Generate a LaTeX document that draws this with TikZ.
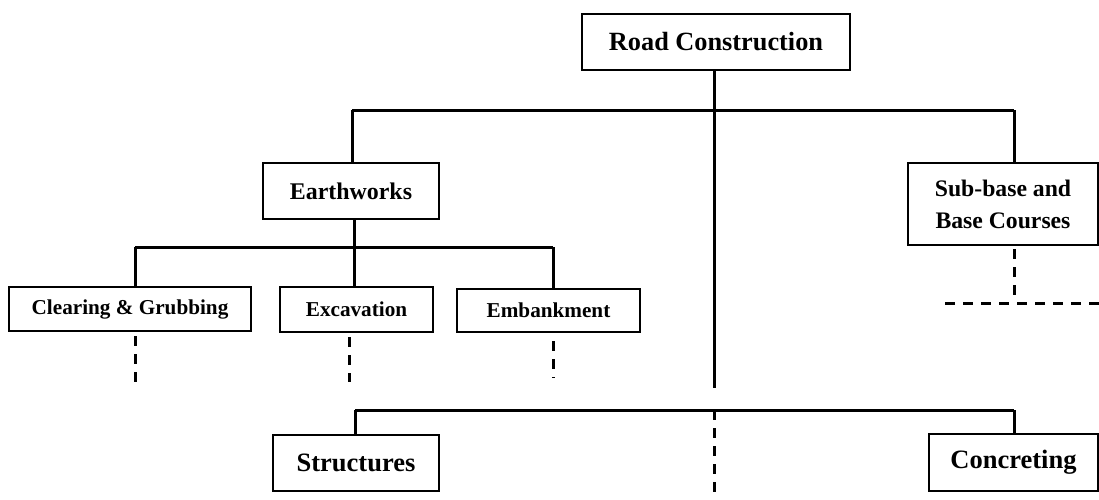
\documentclass[tikz,border=0pt]{standalone}
\usepackage{fontspec}
\setmainfont{Liberation Serif}
\begin{document}
\begin{tikzpicture}[x=1pt,y=-1pt,
  box/.style={draw, line width=2.2pt, inner sep=0pt, font=\bfseries, align=center},
  conn/.style={line width=3pt},
  dconn/.style={line width=3pt, dash pattern=on 10pt off 8pt}]
\useasboundingbox (0,0) rectangle (1099,499);
\clip (0,0) rectangle (1099,499);
% nodes
\node[box, minimum width=268pt, minimum height=56pt, font=\bfseries\fontsize{26.3}{30}\selectfont] (rc) at (716,42) {Road Construction};
\node[box, minimum width=176pt, minimum height=56pt, font=\bfseries\fontsize{23.9}{28}\selectfont] (ew) at (351,191) {Earthworks};
\node[box, minimum width=190pt, minimum height=82pt, font=\bfseries\fontsize{23.7}{32}\selectfont] (sb) at (1003,204) {Sub-base and\\Base Courses};
\node[box, minimum width=242pt, minimum height=44pt, font=\bfseries\fontsize{21.2}{25}\selectfont] (cg) at (130,309) {Clearing \& Grubbing};
\node[box, minimum width=153pt, minimum height=45pt, font=\bfseries\fontsize{21.2}{25}\selectfont] (ex) at (356.5,309.5) {Excavation};
\node[box, minimum width=183pt, minimum height=43pt, font=\bfseries\fontsize{21.2}{25}\selectfont] (em) at (548.5,310.5) {Embankment};
\node[box, minimum width=166pt, minimum height=56pt, font=\bfseries\fontsize{26.5}{30}\selectfont] (st) at (356,463) {Structures};
\node[box, minimum width=169pt, minimum height=57pt, font=\bfseries\fontsize{26.5}{30}\selectfont] (cc) at (1013.5,462.5) {Concreting};
% coordinates
\coordinate (t0) at (714,110);
\coordinate (tl) at (352,110);
\coordinate (tr) at (1014,110);
\coordinate (mend) at (714,388);
\coordinate (e0) at (354,247);
\coordinate (el) at (135,247);
\coordinate (em0) at (553,247);
\coordinate (b0) at (714,410);
\coordinate (bl) at (355,410);
\coordinate (br) at (1014,410);
\coordinate (bend) at (714,495);
\coordinate (cgd) at (135,383);
\coordinate (exd) at (349,382);
\coordinate (emd) at (553,378);
\coordinate (sbd) at (1014,297);
\coordinate (hl) at (945,303);
\coordinate (hr) at (1099,303);
% solid connectors
\draw[conn] (rc.south -| t0) -- (t0);
\draw[conn] (tl) -- (tr);
\draw[conn] (tl) -- (tl |- ew.north);
\draw[conn] (tr) -- (tr |- sb.north);
\draw[conn] (t0) -- (mend);
\draw[conn] (ew.south -| e0) -- (e0);
\draw[conn] (el) -- (em0);
\draw[conn] (el) -- (el |- cg.north);
\draw[conn] (e0) -- (e0 |- ex.north);
\draw[conn] (em0) -- (em0 |- em.north);
\draw[conn] (bl) -- (br);
\draw[conn] (bl) -- (bl |- st.north);
\draw[conn] (br) -- (br |- cc.north);
% dashed connectors
\draw[dconn] ([yshift=-4pt]cg.south -| cgd) -- (cgd);
\draw[dconn] ([yshift=-4pt]ex.south -| exd) -- (exd);
\draw[dconn] ([yshift=-8pt]em.south -| emd) -- (emd);
\draw[dconn] ([yshift=-3pt]sb.south -| sbd) -- (sbd);
\draw[dconn] (hl) -- (hr);
\draw[dconn] (b0) -- (bend);
\end{tikzpicture}
\end{document}
